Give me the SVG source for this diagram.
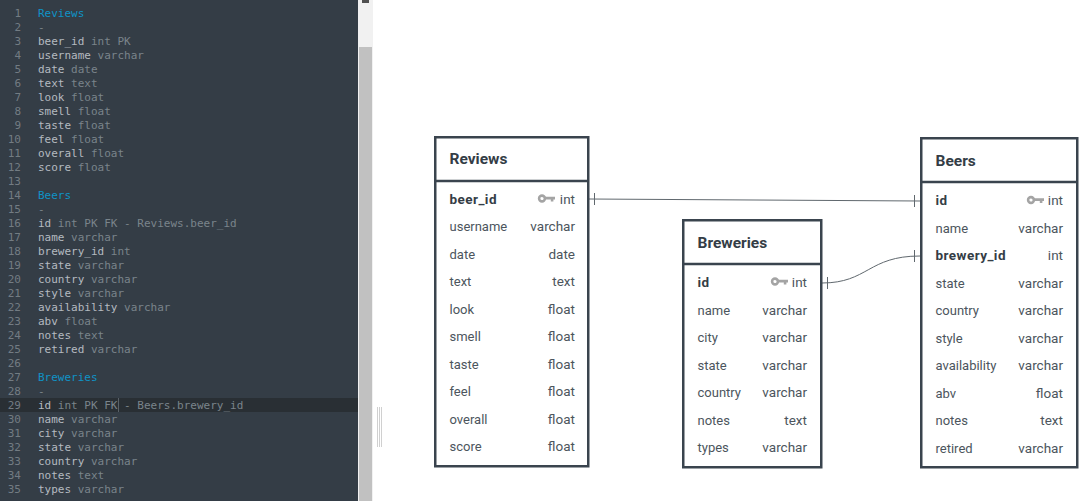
<svg xmlns="http://www.w3.org/2000/svg" width="1082" height="501" viewBox="0 0 1082 501">
<style>
.ed{font-family:"DejaVu Sans Mono",monospace;font-size:11px;fill:#7a848b}
.ln{text-anchor:end;fill:#737c83}
.f{fill:#b4bac0}
.h{fill:#0f93c6}
.box{fill:#fff;stroke:#3a444e;stroke-width:2.5}
.t{font-family:Roboto,"Liberation Sans",sans-serif;font-size:15.500px;font-weight:700;fill:#343d46}
.c{font-family:Roboto,"Liberation Sans",sans-serif;font-size:13px;fill:#4c555d}
.b{font-weight:700;fill:#343d46;font-size:13.500px;letter-spacing:.45px}
.r{text-anchor:end;font-size:13.500px}
.con{fill:none;stroke:#60686e;stroke-width:1}
</style>
<defs>
<g id="key"><circle cx="4" cy="0" r="2.900" fill="none" stroke="#a4a4a4" stroke-width="2.600"/><path d="M6 -1.800H17V1H15.400V3H12.800V1H6Z" fill="#a4a4a4"/></g>
</defs>
<g id="editor">
<rect x="0" y="0" width="358" height="501" fill="#343d46"/>
<rect x="0" y="398" width="358" height="14" fill="#292f34"/>
<rect x="118" y="398" width="1" height="14" fill="#596168"/>
<g class="ed ln">
<text x="21" y="17" class="ed ln">1</text><text x="21" y="31" class="ed ln">2</text><text x="21" y="45" class="ed ln">3</text><text x="21" y="59" class="ed ln">4</text><text x="21" y="73" class="ed ln">5</text><text x="21" y="87" class="ed ln">6</text><text x="21" y="101" class="ed ln">7</text><text x="21" y="115" class="ed ln">8</text><text x="21" y="129" class="ed ln">9</text><text x="21" y="143" class="ed ln">10</text><text x="21" y="157" class="ed ln">11</text><text x="21" y="171" class="ed ln">12</text><text x="21" y="185" class="ed ln">13</text><text x="21" y="199" class="ed ln">14</text><text x="21" y="213" class="ed ln">15</text><text x="21" y="227" class="ed ln">16</text><text x="21" y="241" class="ed ln">17</text><text x="21" y="255" class="ed ln">18</text><text x="21" y="269" class="ed ln">19</text><text x="21" y="283" class="ed ln">20</text><text x="21" y="297" class="ed ln">21</text><text x="21" y="311" class="ed ln">22</text><text x="21" y="325" class="ed ln">23</text><text x="21" y="339" class="ed ln">24</text><text x="21" y="353" class="ed ln">25</text><text x="21" y="367" class="ed ln">26</text><text x="21" y="381" class="ed ln">27</text><text x="21" y="395" class="ed ln">28</text><text x="21" y="409" class="ed ln">29</text><text x="21" y="423" class="ed ln">30</text><text x="21" y="437" class="ed ln">31</text><text x="21" y="451" class="ed ln">32</text><text x="21" y="465" class="ed ln">33</text><text x="21" y="479" class="ed ln">34</text><text x="21" y="493" class="ed ln">35</text>
</g>
<text x="38" y="17" class="ed h">Reviews</text>
<text x="38" y="31" class="ed">-</text>
<text x="38" y="45" class="ed"><tspan class="f">beer_id</tspan> int PK</text>
<text x="38" y="59" class="ed"><tspan class="f">username</tspan> varchar</text>
<text x="38" y="73" class="ed"><tspan class="f">date</tspan> date</text>
<text x="38" y="87" class="ed"><tspan class="f">text</tspan> text</text>
<text x="38" y="101" class="ed"><tspan class="f">look</tspan> float</text>
<text x="38" y="115" class="ed"><tspan class="f">smell</tspan> float</text>
<text x="38" y="129" class="ed"><tspan class="f">taste</tspan> float</text>
<text x="38" y="143" class="ed"><tspan class="f">feel</tspan> float</text>
<text x="38" y="157" class="ed"><tspan class="f">overall</tspan> float</text>
<text x="38" y="171" class="ed"><tspan class="f">score</tspan> float</text>
<text x="38" y="199" class="ed h">Beers</text>
<text x="38" y="213" class="ed">-</text>
<text x="38" y="227" class="ed"><tspan class="f">id</tspan> int PK FK - Reviews.beer_id</text>
<text x="38" y="241" class="ed"><tspan class="f">name</tspan> varchar</text>
<text x="38" y="255" class="ed"><tspan class="f">brewery_id</tspan> int</text>
<text x="38" y="269" class="ed"><tspan class="f">state</tspan> varchar</text>
<text x="38" y="283" class="ed"><tspan class="f">country</tspan> varchar</text>
<text x="38" y="297" class="ed"><tspan class="f">style</tspan> varchar</text>
<text x="38" y="311" class="ed"><tspan class="f">availability</tspan> varchar</text>
<text x="38" y="325" class="ed"><tspan class="f">abv</tspan> float</text>
<text x="38" y="339" class="ed"><tspan class="f">notes</tspan> text</text>
<text x="38" y="353" class="ed"><tspan class="f">retired</tspan> varchar</text>
<text x="38" y="381" class="ed h">Breweries</text>
<text x="38" y="395" class="ed">-</text>
<text x="38" y="409" class="ed"><tspan class="f">id</tspan> int PK FK - Beers.brewery_id</text>
<text x="38" y="423" class="ed"><tspan class="f">name</tspan> varchar</text>
<text x="38" y="437" class="ed"><tspan class="f">city</tspan> varchar</text>
<text x="38" y="451" class="ed"><tspan class="f">state</tspan> varchar</text>
<text x="38" y="465" class="ed"><tspan class="f">country</tspan> varchar</text>
<text x="38" y="479" class="ed"><tspan class="f">notes</tspan> text</text>
<text x="38" y="493" class="ed"><tspan class="f">types</tspan> varchar</text>
</g>
<g id="scrollbar">
<rect x="358" y="0" width="15" height="501" fill="#f1f1f1"/>
<rect x="359" y="47" width="13" height="454" fill="#c1c1c1"/>
<rect x="362" y="0" width="7" height="3" fill="#505050"/>
<rect x="373" y="0" width="709" height="501" fill="#fff"/>
<path d="M377.500 407V447M379.500 407V447M381.500 407V447" stroke="#d0d0d0" stroke-width="1"/>
</g>
<g id="connectors" class="con">
<path d="M589 199L920 201" class="con"/>
<path d="M594.500 193V205M914.500 195V207" class="con"/>
<path d="M822 283C868 283 868 256 920 256" class="con"/>
<path d="M827.500 277V289M914.500 250V262" class="con"/>
</g>
<g id="reviews">
<rect x="435.250" y="137.250" width="153" height="329" class="box"/>
<path d="M435 181H588" class="box"/>
<text x="449.500" y="164" class="t">Reviews</text>
<text x="449.500" y="204" class="c b">beer_id</text><use href="#key" x="538" y="198.500"/><text x="575" y="204" class="c r">int</text>
<text x="449.500" y="231" class="c">username</text><text x="575" y="231" class="c r">varchar</text>
<text x="449.500" y="259" class="c">date</text><text x="575" y="259" class="c r">date</text>
<text x="449.500" y="286" class="c">text</text><text x="575" y="286" class="c r">text</text>
<text x="449.500" y="314" class="c">look</text><text x="575" y="314" class="c r">float</text>
<text x="449.500" y="341" class="c">smell</text><text x="575" y="341" class="c r">float</text>
<text x="449.500" y="369" class="c">taste</text><text x="575" y="369" class="c r">float</text>
<text x="449.500" y="396" class="c">feel</text><text x="575" y="396" class="c r">float</text>
<text x="449.500" y="424" class="c">overall</text><text x="575" y="424" class="c r">float</text>
<text x="449.500" y="451" class="c">score</text><text x="575" y="451" class="c r">float</text>
</g>
<g id="breweries">
<rect x="683.250" y="220.250" width="138" height="247" class="box"/>
<path d="M683 264H821" class="box"/>
<text x="697.500" y="248" class="t">Breweries</text>
<text x="697.500" y="287" class="c b">id</text><use href="#key" x="771" y="281.500"/><text x="807" y="287" class="c r">int</text>
<text x="697.500" y="315" class="c">name</text><text x="807" y="315" class="c r">varchar</text>
<text x="697.500" y="342" class="c">city</text><text x="807" y="342" class="c r">varchar</text>
<text x="697.500" y="370" class="c">state</text><text x="807" y="370" class="c r">varchar</text>
<text x="697.500" y="397" class="c">country</text><text x="807" y="397" class="c r">varchar</text>
<text x="697.500" y="425" class="c">notes</text><text x="807" y="425" class="c r">text</text>
<text x="697.500" y="452" class="c">types</text><text x="807" y="452" class="c r">varchar</text>
</g>
<g id="beers">
<rect x="921.250" y="138.250" width="156" height="329" class="box"/>
<path d="M921 182H1077" class="box"/>
<text x="935.500" y="166" class="t">Beers</text>
<text x="935.500" y="205" class="c b">id</text><use href="#key" x="1027" y="200"/><text x="1063" y="205" class="c r">int</text>
<text x="935.500" y="233" class="c">name</text><text x="1063" y="233" class="c r">varchar</text>
<text x="935.500" y="260" class="c b">brewery_id</text><text x="1063" y="260" class="c r">int</text>
<text x="935.500" y="288" class="c">state</text><text x="1063" y="288" class="c r">varchar</text>
<text x="935.500" y="315" class="c">country</text><text x="1063" y="315" class="c r">varchar</text>
<text x="935.500" y="343" class="c">style</text><text x="1063" y="343" class="c r">varchar</text>
<text x="935.500" y="370" class="c">availability</text><text x="1063" y="370" class="c r">varchar</text>
<text x="935.500" y="398" class="c">abv</text><text x="1063" y="398" class="c r">float</text>
<text x="935.500" y="425" class="c">notes</text><text x="1063" y="425" class="c r">text</text>
<text x="935.500" y="453" class="c">retired</text><text x="1063" y="453" class="c r">varchar</text>
</g>
</svg>
